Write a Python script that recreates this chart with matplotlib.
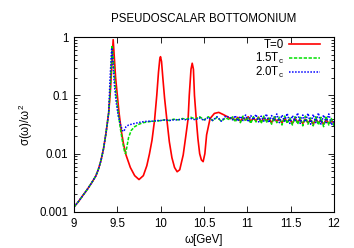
import matplotlib
matplotlib.use("Agg")
import matplotlib.pyplot as plt
from matplotlib.ticker import LogLocator, NullFormatter, FixedLocator

plt.rcParams['font.family'] = ['Liberation Sans', 'DejaVu Sans']
plt.rcParams['mathtext.fontset'] = 'custom'
plt.rcParams['mathtext.rm'] = 'Liberation Sans'
plt.rcParams['mathtext.it'] = 'Liberation Sans'

title = "PSEUDOSCALAR BOTTOMONIUM"
labels = ["T=0", "1.5T$_\\mathregular{c}$", "2.0T$_\\mathregular{c}$"]

rise_x = [9.0, 9.05, 9.1, 9.15, 9.2, 9.25, 9.28, 9.31, 9.34, 9.37, 9.4]
rise_y = [0.00122, 0.0015, 0.0019, 0.0024, 0.0031, 0.0041, 0.0053, 0.0075, 0.012, 0.023, 0.05]

tail_x = [10.80, 10.83, 10.86, 10.89, 10.92, 10.95, 10.98, 11.01, 11.04, 11.07,
          11.10, 11.13, 11.16, 11.19, 11.22, 11.25, 11.28, 11.31, 11.34, 11.37,
          11.40, 11.43, 11.46, 11.49, 11.52, 11.55, 11.58, 11.61, 11.64, 11.67,
          11.70, 11.73, 11.76, 11.79, 11.82, 11.85, 11.88, 11.91, 11.94, 11.97, 12.00]

# T=0
red_x = [9.42, 9.435, 9.452, 9.465, 9.48, 9.5, 9.52, 9.545, 9.57, 9.6, 9.65, 9.7, 9.75,
         9.8, 9.84, 9.87, 9.9, 9.93, 9.955, 9.975, 9.99, 9.998, 10.01, 10.025, 10.045,
         10.07, 10.1, 10.13, 10.16, 10.19, 10.22, 10.26, 10.29, 10.317, 10.33, 10.35,
         10.364, 10.378, 10.39, 10.41, 10.43, 10.45, 10.47, 10.49, 10.51, 10.53, 10.57,
         10.62, 10.67, 10.72, 10.77]
red_y = [0.12, 0.3, 0.9, 0.45, 0.2, 0.1, 0.05, 0.025, 0.015, 0.0095, 0.0058, 0.0042, 0.0036,
         0.0042, 0.0062, 0.0098, 0.017, 0.038, 0.1, 0.25, 0.42, 0.46, 0.38, 0.2, 0.09,
         0.04, 0.016, 0.0085, 0.0058, 0.0049, 0.0053, 0.0095, 0.02, 0.04, 0.1, 0.28,
         0.355, 0.28, 0.1, 0.04, 0.018, 0.01, 0.0078, 0.0073, 0.01, 0.021, 0.04,
         0.049, 0.051, 0.047, 0.043]
red_tail = [0.040, 0.041, 0.037, 0.042, 0.036, 0.041, 0.038, 0.043, 0.036, 0.040,
            0.037, 0.042, 0.035, 0.041, 0.037, 0.040, 0.034, 0.041, 0.036, 0.039,
            0.034, 0.040, 0.035, 0.039, 0.033, 0.040, 0.035, 0.038, 0.033, 0.039,
            0.034, 0.038, 0.032, 0.039, 0.034, 0.037, 0.032, 0.038, 0.033, 0.036, 0.034]

# 1.5 Tc
green_x = [9.42, 9.44, 9.455, 9.47, 9.49, 9.51, 9.535, 9.56, 9.585, 9.595, 9.61, 9.63, 9.66,
           9.7, 9.75, 9.8, 9.85, 9.9, 9.95, 10.0, 10.05, 10.1, 10.15, 10.2, 10.25, 10.3,
           10.35, 10.4, 10.45, 10.5, 10.55, 10.6, 10.65, 10.7, 10.75]
green_y = [0.14, 0.72, 0.4, 0.18, 0.09, 0.05, 0.027, 0.016, 0.0105, 0.01, 0.013, 0.019, 0.025,
           0.029, 0.032, 0.034, 0.035, 0.036, 0.036, 0.037, 0.038, 0.037, 0.039, 0.038, 0.040, 0.039,
           0.042, 0.039, 0.043, 0.038, 0.043, 0.037, 0.042, 0.036, 0.041]
green_tail = [0.038, 0.043, 0.035, 0.042, 0.034, 0.044, 0.036, 0.041, 0.033, 0.043,
              0.035, 0.042, 0.033, 0.044, 0.034, 0.041, 0.032, 0.043, 0.034, 0.042,
              0.031, 0.044, 0.033, 0.041, 0.031, 0.043, 0.032, 0.042, 0.030, 0.044,
              0.032, 0.041, 0.030, 0.043, 0.031, 0.042, 0.029, 0.044, 0.031, 0.040, 0.030]

# 2.0 Tc
blue_x = [9.415, 9.435, 9.45, 9.465, 9.485, 9.51, 9.54, 9.565, 9.58, 9.6, 9.63, 9.7, 9.78,
          9.85, 9.9, 9.95, 10.0, 10.05, 10.1, 10.15, 10.2, 10.25, 10.3, 10.35, 10.4,
          10.45, 10.5, 10.55, 10.6, 10.65, 10.7, 10.75]
blue_y = [0.18, 0.65, 0.35, 0.16, 0.08, 0.045, 0.03, 0.024, 0.025, 0.029, 0.031, 0.033, 0.035,
          0.036, 0.036, 0.037, 0.037, 0.038, 0.037, 0.038, 0.038, 0.039, 0.038, 0.040, 0.038,
          0.041, 0.037, 0.042, 0.037, 0.043, 0.036, 0.044]
blue_tail = [0.042, 0.038, 0.045, 0.036, 0.044, 0.037, 0.046, 0.035, 0.045, 0.038,
             0.047, 0.035, 0.044, 0.036, 0.048, 0.034, 0.045, 0.037, 0.048, 0.034,
             0.046, 0.036, 0.049, 0.033, 0.045, 0.036, 0.050, 0.033, 0.046, 0.035,
             0.049, 0.032, 0.047, 0.034, 0.050, 0.032, 0.046, 0.034, 0.048, 0.031, 0.036]

xticks = [9, 9.5, 10, 10.5, 11, 11.5, 12]
xticklabels = ["9", "9.5", "10", "10.5", "11", "11.5", "12"]
yticks = [0.001, 0.01, 0.1, 1]
yticklabels = ["0.001", "0.01", "0.1", "1"]

fs = 8.3
fig = plt.figure(figsize=(3.54, 2.48), dpi=100)
ax = fig.add_axes([74/354, 1-212/248, 260/354, 175/248])

ax.plot(rise_x + red_x + tail_x, rise_y + red_y + red_tail, color='#ff0000', lw=1.2,
        label=labels[0])
ax.plot(rise_x + green_x + tail_x, rise_y + green_y + green_tail, color='#00e000', lw=1.1,
        ls=(0, (2.2, 1)), label=labels[1])
ax.plot(rise_x + blue_x + tail_x, rise_y + blue_y + blue_tail, color='#0000ff', lw=1.1,
        ls=(0, (1, 1)), label=labels[2])

ax.set_yscale('log')
ax.set_xlim(9, 12)
ax.set_ylim(0.001, 1)
ax.xaxis.set_major_locator(FixedLocator(xticks))
ax.set_xticklabels(xticklabels, fontsize=fs)
ax.yaxis.set_major_locator(FixedLocator(yticks))
ax.set_yticklabels(yticklabels, fontsize=fs)
ax.yaxis.set_minor_locator(LogLocator(base=10, subs=range(2, 10)))
ax.yaxis.set_minor_formatter(NullFormatter())
ax.tick_params(which='both', direction='in', top=True, right=True, width=0.6)
ax.tick_params(which='major', length=4, pad=4)
ax.tick_params(which='minor', length=2)
for s in ax.spines.values():
    s.set_linewidth(0.8)

ax.set_title(title, fontsize=fs, pad=11)
ax.set_xlabel("ω[GeV]", fontsize=fs, labelpad=3)
ax.set_ylabel("σ(ω)/ω$^\\mathregular{2}$", fontsize=fs, labelpad=3)

leg = ax.legend(loc='upper right', bbox_to_anchor=(0.955, 1.0), frameon=False,
                fontsize=fs, markerfirst=False,
                handlelength=2.7, handletextpad=0.45, labelspacing=-0.05,
                borderaxespad=0.0, borderpad=0.2)
for t in leg.get_texts():
    t.set_ha('right')
leg._legend_box.align = "right"

fig.savefig("out.png", dpi=100)
